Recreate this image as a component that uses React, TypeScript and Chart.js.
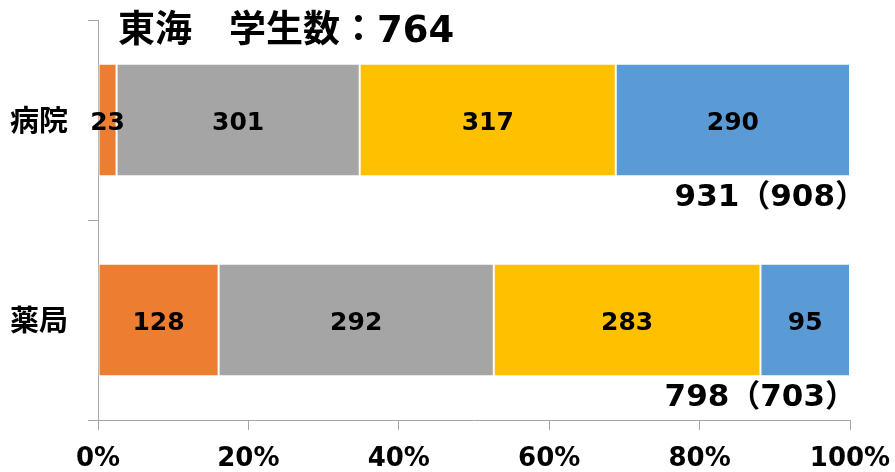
import React, { useEffect, useRef } from "react";
import { Chart, registerables } from "chart.js";

Chart.register(...registerables);

const categories = ["病院", "薬局"];
const seriesColors = ["#ED7D31", "#A5A5A5", "#FFC000", "#5B9BD5"];
const seriesA = [23, 128];
const seriesB = [301, 292];
const seriesC = [317, 283];
const seriesD = [290, 95];
const totalLabels = ["931（908）", "798（703）"];
const titleText = "東海　学生数：764";
const xTicks = [0, 20, 40, 60, 80, 100];

const counts = [seriesA, seriesB, seriesC, seriesD];

export default function App() {
  const ref = useRef<HTMLCanvasElement | null>(null);

  useEffect(() => {
    document.body.style.margin = "0";
    const canvas = ref.current;
    if (!canvas) return;

    const totals = categories.map((_, i) => counts.reduce((s, a) => s + a[i], 0));
    const datasets = counts.map((arr, k) => ({
      label: "s" + k,
      data: arr.map((v, i) => (v / totals[i]) * 100),
      backgroundColor: seriesColors[k],
      borderColor: "#ffffff",
      borderWidth: 1,
      borderSkipped: false,
      categoryPercentage: 1,
      barPercentage: 0.5625,
    }));

    const labelsPlugin = {
      id: "labelsPlugin",
      afterDatasetsDraw(chart: any) {
        const ctx = chart.ctx;
        ctx.save();
        ctx.fillStyle = "#000";
        ctx.textAlign = "center";
        ctx.textBaseline = "middle";
        ctx.font = "bold 25px 'DejaVu Sans', 'Noto Sans CJK JP', sans-serif";
        chart.data.datasets.forEach((ds: any, k: number) => {
          const meta = chart.getDatasetMeta(k);
          meta.data.forEach((el: any, i: number) => {
            const cx = (el.x + el.base) / 2;
            ctx.fillText(String(counts[k][i]), cx, el.y + 3);
          });
        });
        // totals below bars
        const last = chart.getDatasetMeta(chart.data.datasets.length - 1);
        const offsets = [16, 6];
        ctx.textAlign = "right";
        ctx.font = "bold 31px 'DejaVu Sans', 'Noto Sans CJK JP', sans-serif";
        last.data.forEach((el: any, i: number) => {
          ctx.fillText(totalLabels[i], el.x + offsets[i], el.y + el.height / 2 + 22);
        });
        // title
        const ca = chart.chartArea;
        ctx.textAlign = "left";
        ctx.font = "bold 37px 'DejaVu Sans', 'Noto Sans CJK JP', sans-serif";
        ctx.fillText(titleText, ca.left + 20, ca.top + 12);
        ctx.restore();
      },
    };

    const chart = new Chart(canvas, {
      type: "bar",
      data: { labels: categories, datasets },
      options: {
        indexAxis: "y",
        animation: false,
        responsive: false,
        devicePixelRatio: 1,
        layout: { padding: { top: 20, right: 45, left: 0, bottom: 0 } },
        plugins: {
          legend: { display: false },
          tooltip: { enabled: false },
          title: { display: false },
        },
        scales: {
          x: {
            stacked: true,
            min: 0,
            max: 100,
            afterBuildTicks: (scale: any) => {
              scale.ticks = xTicks.map((v) => ({ value: v }));
            },
            afterFit: (scale: any) => {
              scale.height = 52;
              scale.paddingLeft = 0;
              scale.paddingRight = 0;
            },
            grid: {
              display: true,
              drawOnChartArea: false,
              drawTicks: true,
              tickLength: 10,
              color: "#a6a6a6",
            },
            border: { display: true, color: "#a6a6a6", width: 1 },
            ticks: {
              color: "#000",
              padding: 14,
              maxRotation: 0,
              autoSkip: false,
              font: { family: "'DejaVu Sans', sans-serif", size: 26, weight: "bold" },
              callback: (v: any) => v + "%",
            },
          },
          y: {
            stacked: true,
            afterFit: (scale: any) => {
              scale.width = 98;
              scale.paddingTop = 0;
              scale.paddingBottom = 0;
            },
            grid: {
              display: true,
              offset: true,
              drawOnChartArea: false,
              drawTicks: true,
              tickLength: 10,
              color: "#a6a6a6",
            },
            border: { display: true, color: "#a6a6a6", width: 1 },
            ticks: {
              color: "#000",
              padding: 20,
              font: { family: "'Noto Sans CJK JP', sans-serif", size: 29, weight: "bold" },
            },
          },
        },
      },
      plugins: [labelsPlugin],
    } as any);

    return () => chart.destroy();
  }, []);

  return <canvas ref={ref} width={895} height={472} style={{ display: "block" }} />;
}
